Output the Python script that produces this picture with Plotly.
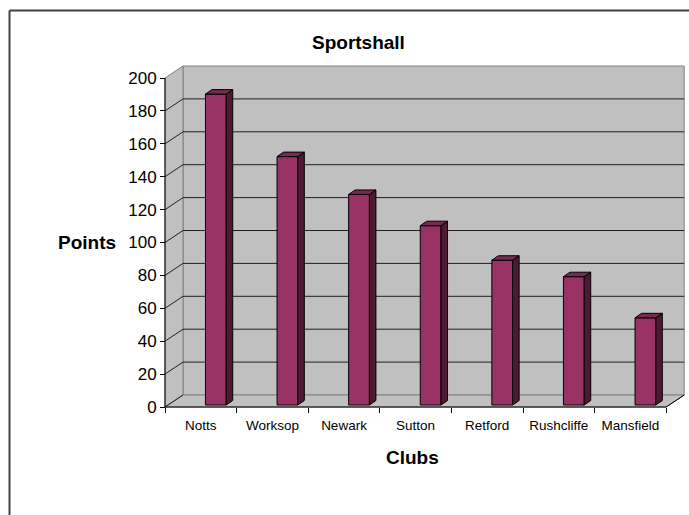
import plotly.graph_objects as go

# ---- data ----
clubs = ["Notts", "Worksop", "Newark", "Sutton", "Retford", "Rushcliffe", "Mansfield"]
points = [189, 151, 128, 109, 88, 78, 53]
y_ticks = list(range(0, 201, 20))

# ---- layout geometry (pixels) ----
W, H = 689, 515
L, R, T, B = 155, 686, 60, 412          # plot area in pixels
X0_PX, Y0_PX = 165, 407                  # pixel of data (0, 0)
SX = 71.6                                # px per category slot
SY = 329 / 200                           # px per point
DX = 18 / SX                             # wall depth (x units)
DY = 12 / SY                             # wall depth (y units)
BDX = 6.5 / SX                           # bar depth
BDY = 4.5 / SY
BASE = 2 / SY                            # bar front sits slightly behind the floor front
BAR_OFF = 0.565
BAR_W = 0.29
N = len(clubs)
YMAX = 200

xr = [(L - X0_PX) / SX, (R - X0_PX) / SX]
yr = [-(B - Y0_PX) / SY, (Y0_PX - T) / SY]


def px_x(p):
    return (p - L) / (R - L)


def px_y(p):
    return (B - p) / (B - T)


FONT = "Liberation Sans, Arial, sans-serif"
WALL = "#C0C0C0"
EDGE = "#808080"
FRONT = "#993366"
SIDE = "#4C1A33"
TOP = "#7A2952"

fig = go.Figure()

# front faces of bars
fig.add_trace(go.Bar(
    x=[i + BAR_OFF + BAR_W / 2 for i in range(N)],
    y=points,
    base=BASE,
    width=BAR_W,
    marker=dict(color=FRONT, line=dict(color="black", width=1)),
    hoverinfo="skip",
    showlegend=False,
))

# side and top faces
for i, v in enumerate(points):
    xl = i + BAR_OFF
    xrt = xl + BAR_W
    fig.add_trace(go.Scatter(
        x=[xrt, xrt + BDX, xrt + BDX, xrt, xrt],
        y=[BASE, BASE + BDY, BASE + v + BDY, BASE + v, BASE],
        fill="toself", fillcolor=SIDE, mode="lines",
        line=dict(color="black", width=1), hoverinfo="skip", showlegend=False))
    fig.add_trace(go.Scatter(
        x=[xl, xrt, xrt + BDX, xl + BDX, xl],
        y=[BASE + v, BASE + v, BASE + v + BDY, BASE + v + BDY, BASE + v],
        fill="toself", fillcolor=TOP, mode="lines",
        line=dict(color="black", width=1), hoverinfo="skip", showlegend=False))

# axis lines
fig.add_trace(go.Scatter(x=[0, 0], y=[0, YMAX], mode="lines",
                         line=dict(color="black", width=1), hoverinfo="skip", showlegend=False))
fig.add_trace(go.Scatter(x=[0, N, N + DX], y=[0, 0, DY], mode="lines",
                         line=dict(color="black", width=1), hoverinfo="skip", showlegend=False))

shapes = []


def poly(xs, ys):
    d = "M " + " L ".join(f"{x},{y}" for x, y in zip(xs, ys)) + " Z"
    return d


# back wall
shapes.append(dict(type="path", xref="x", yref="y", layer="below",
                   path=poly([DX, N + DX, N + DX, DX], [DY, DY, YMAX + DY, YMAX + DY]),
                   fillcolor=WALL, line=dict(color=EDGE, width=1)))
# side wall
shapes.append(dict(type="path", xref="x", yref="y", layer="below",
                   path=poly([0, DX, DX, 0], [0, DY, YMAX + DY, YMAX]),
                   fillcolor=WALL, line=dict(color=EDGE, width=1)))
# floor
shapes.append(dict(type="path", xref="x", yref="y", layer="below",
                   path=poly([0, N, N + DX, DX], [0, 0, DY, DY]),
                   fillcolor=WALL, line=dict(color=EDGE, width=1)))
# gridlines
for v in y_ticks[1:-1]:
    shapes.append(dict(type="line", xref="x", yref="y", layer="below",
                       x0=DX, x1=N + DX, y0=v + DY, y1=v + DY,
                       line=dict(color="#202020", width=1)))
    shapes.append(dict(type="line", xref="x", yref="y", layer="below",
                       x0=0, x1=DX, y0=v, y1=v + DY,
                       line=dict(color="#202020", width=1)))
shapes.append(dict(type="line", xref="x", yref="y", layer="below",
                   x0=0, x1=DX, y0=0, y1=DY, line=dict(color="#202020", width=1)))

# outer chart border (only top and left edges fall inside the picture)
shapes.append(dict(type="line", xref="paper", yref="paper",
                   x0=px_x(9.5), x1=px_x(W + 5), y0=px_y(10.5), y1=px_y(10.5),
                   line=dict(color="#404040", width=2)))
shapes.append(dict(type="line", xref="paper", yref="paper",
                   x0=px_x(9.5), x1=px_x(9.5), y0=px_y(10.5), y1=px_y(H + 5),
                   line=dict(color="#404040", width=2)))

annotations = [
    dict(text="<b>Sportshall</b>", x=px_x(358), y=px_y(43), xref="paper", yref="paper",
         showarrow=False, font=dict(family=FONT, size=19, color="black"),
         xanchor="center", yanchor="middle"),
    dict(text="<b>Points</b>", x=px_x(86.5), y=px_y(242.5), xref="paper", yref="paper",
         showarrow=False, font=dict(family=FONT, size=19, color="black"),
         xanchor="center", yanchor="middle"),
    dict(text="<b>Clubs</b>", x=px_x(412.5), y=px_y(457.5), xref="paper", yref="paper",
         showarrow=False, font=dict(family=FONT, size=19, color="black"),
         xanchor="center", yanchor="middle"),
]

fig.update_layout(
    width=W, height=H,
    margin=dict(l=L, r=W - R, t=T, b=H - B, pad=0),
    paper_bgcolor="white", plot_bgcolor="rgba(0,0,0,0)",
    showlegend=False,
    shapes=shapes,
    annotations=annotations,
    xaxis=dict(
        range=xr, anchor="free", position=px_y(Y0_PX),
        tickmode="array", tickvals=[i + 0.5 for i in range(N)], ticktext=clubs,
        ticks="outside", ticklen=6, tickcolor="rgba(0,0,0,0)",
        tickfont=dict(family=FONT, size=13.5, color="black"),
        minor=dict(tickmode="array", tickvals=list(range(N + 1)), ticks="outside",
                   ticklen=5, tickcolor="black", tickwidth=1, showgrid=False),
        showgrid=False, zeroline=False, showline=False, fixedrange=True,
    ),
    yaxis=dict(
        range=yr, anchor="free", position=px_x(X0_PX),
        tickmode="array", tickvals=y_ticks,
        ticks="outside", ticklen=5, tickcolor="black", tickwidth=1,
        tickfont=dict(family=FONT, size=17, color="black"),
        showgrid=False, zeroline=False, showline=False, fixedrange=True,
    ),
)

fig.write_html(
    "out.html",
    config={"displayModeBar": False},
    post_script="document.body.style.margin='0';document.body.style.overflow='hidden';",
)
